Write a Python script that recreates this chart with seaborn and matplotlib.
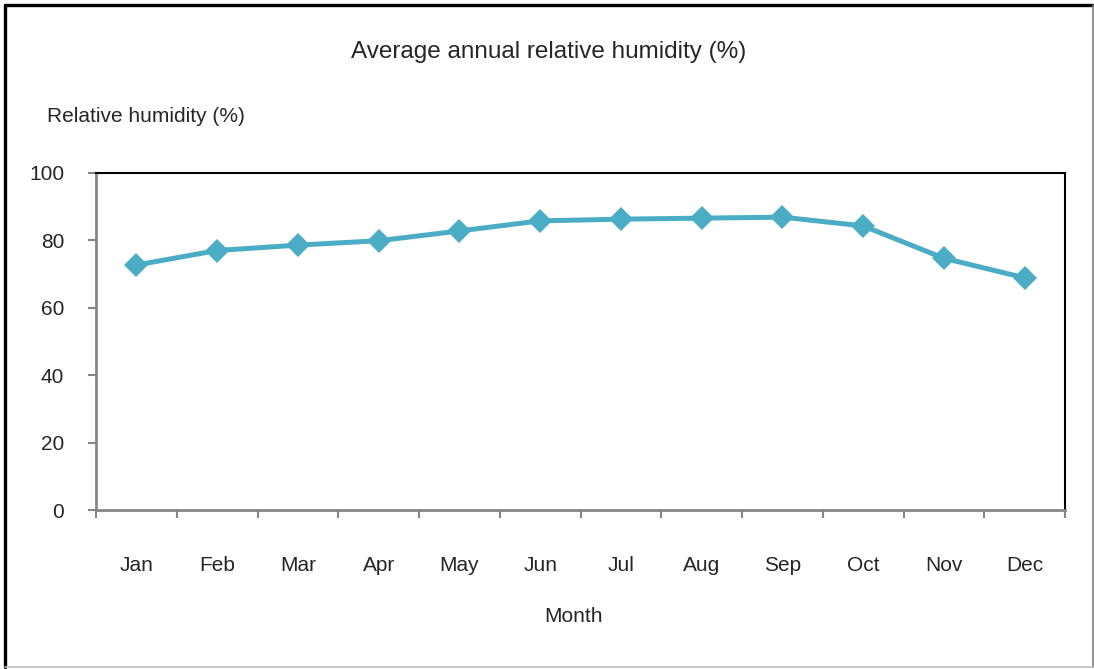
import matplotlib
matplotlib.use("Agg")
import matplotlib.pyplot as plt
from matplotlib.lines import Line2D
from matplotlib.ticker import FixedLocator
import numpy as np
import pandas as pd
import seaborn as sns

months = ["Jan", "Feb", "Mar", "Apr", "May", "Jun",
          "Jul", "Aug", "Sep", "Oct", "Nov", "Dec"]
humidity = [72.7, 77.0, 78.6, 79.9, 82.8, 85.8,
            86.3, 86.6, 86.9, 84.3, 74.7, 68.9]
y_ticks = [0, 20, 40, 60, 80, 100]

title = "Average annual relative humidity (%)"
y_label = "Relative humidity (%)"
x_label = "Month"

sns.set_theme(style="white")
plt.rcParams["font.family"] = ["Liberation Sans", "DejaVu Sans"]

W, H = 1094, 669
fig = plt.figure(figsize=(W / 100, H / 100), dpi=100)
ax = fig.add_axes([96 / W, 1 - 510 / H, 969 / W, 337 / H])

df = pd.DataFrame({"month": months, "humidity": humidity})
sns.lineplot(data=df, x="month", y="humidity", sort=False, ax=ax,
             color="#4BACC6", linewidth=3.6, marker="D", markersize=12.5,
             markeredgewidth=0, markerfacecolor="#4BACC6")

ax.set_xlim(-0.5, len(months) - 0.5)
ax.set_ylim(0, 100)
ax.set_yticks(y_ticks)
ax.set_xticks(range(len(months)))
ax.set_xticklabels(months)
ax.xaxis.set_minor_locator(FixedLocator(np.arange(-0.5, len(months), 1.0)))

text_color = "#262626"
ax.tick_params(axis="x", which="major", length=0, pad=33,
               labelsize=15, labelcolor=text_color)
ax.tick_params(axis="x", which="minor", length=6, width=1.5,
               color="#868686", direction="out", bottom=True)
ax.tick_params(axis="y", which="major", length=6, width=1.5,
               color="#868686", direction="out", left=True, pad=17,
               labelsize=15, labelcolor=text_color)

ax.set_xlabel("")
ax.set_ylabel("")

for side in ("left", "bottom"):
    ax.spines[side].set_color("#868686")
    ax.spines[side].set_linewidth(2)
for side in ("top", "right"):
    ax.spines[side].set_color("black")
    ax.spines[side].set_linewidth(1.5)
    ax.spines[side].set_visible(True)

fig.text(549 / W, 1 - 52 / H, title, ha="center", va="center",
         fontsize=17.5, color=text_color)
fig.text(47 / W, 1 - 116 / H, y_label, ha="left", va="center",
         fontsize=15, color=text_color)
fig.text(573 / W, 1 - 616 / H, x_label, ha="center", va="center",
         fontsize=15, color=text_color)

# outer frame around the whole chart
frame = [
    ((5 / W, 5 / W), (1 - 5 / H, 1 - 667 / H), "black", 2.4),
    ((5 / W, 1093 / W), (1 - 5 / H, 1 - 5 / H), "black", 2.4),
    ((1093 / W, 1093 / W), (1 - 5 / H, 1 - 667 / H), "#7f7f7f", 1.2),
    ((5 / W, 1093 / W), (1 - 667 / H, 1 - 667 / H), "#bfbfbf", 1.2),
]
for xs, ys, c, lw in frame:
    fig.add_artist(Line2D(xs, ys, transform=fig.transFigure,
                          color=c, linewidth=lw))

fig.savefig("out.png", dpi=100, facecolor="white")
